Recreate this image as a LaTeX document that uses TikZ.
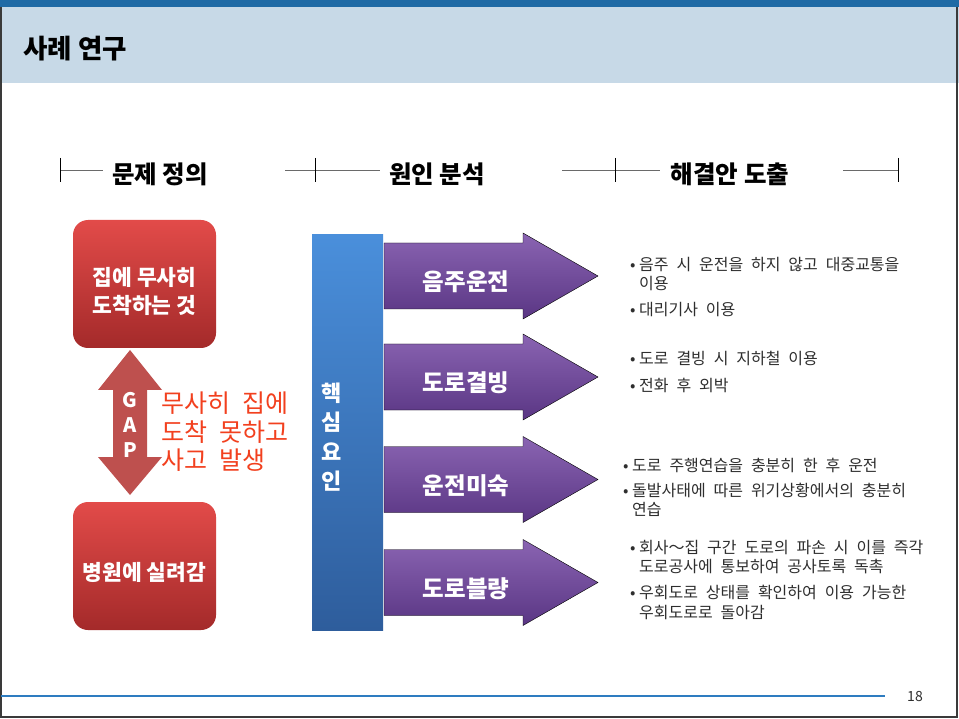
\documentclass[tikz,border=0pt]{standalone}
\usepackage{fontspec}
\setmainfont{Noto Sans CJK KR}
\newfontfamily\bodyfont[WordSpace=2.2]{Noto Sans CJK KR}
\usetikzlibrary{positioning}

\definecolor{bandblue}{HTML}{1F6AA5}
\definecolor{titleblue}{HTML}{C7D9E7}
\definecolor{framegray}{HTML}{3A3A3A}
\definecolor{rulegray}{HTML}{6A6A6A}
\definecolor{boxred1}{HTML}{E24B49}
\definecolor{boxred2}{HTML}{A42A2A}
\definecolor{gapred}{HTML}{BE504E}
\definecolor{gaptext}{HTML}{F2401E}
\definecolor{barblue1}{HTML}{4A8FDB}
\definecolor{barblue2}{HTML}{2E5D9C}
\definecolor{arrowpurple1}{HTML}{8A64B2}
\definecolor{arrowpurple2}{HTML}{5A3684}
\definecolor{bodygray}{HTML}{2E2E2E}
\definecolor{ruleblue}{HTML}{2E7CC0}

\newcommand\tipdot{\makebox[9pt][l]{•}}
\newcommand\tipgap{\hspace*{9pt}}

\tikzset{
  titletxt/.style={anchor=west, inner sep=0pt, font=\bfseries\fontsize{26.5}{30}\selectfont},
  headtxt/.style={inner sep=0pt, font=\bfseries\fontsize{24.5}{28}\selectfont},
  headline/.style={draw=rulegray, line width=0.9pt},
  headtick/.style={draw=black, line width=0.8pt},
  redbox/.style={rounded corners=15pt, top color=boxred1, bottom color=boxred2,
    minimum width=143pt, minimum height=128pt, inner sep=0pt},
  redtxt/.style={inner sep=0pt, text=white, align=center, font=\bfseries\fontsize{21.5}{28}\selectfont},
  gaptxt/.style={inner sep=0pt, text=white, align=center, font=\bfseries\fontsize{20}{25}\selectfont},
  gapnote/.style={anchor=west, inner sep=0pt, text=gaptext, align=left, font=\bodyfont\fontsize{25}{28.5}\selectfont},
  corebar/.style={top color=barblue1, bottom color=barblue2, minimum width=71pt,
    minimum height=395pt, inner sep=0pt},
  coretxt/.style={inner sep=0pt, text=white, align=center, font=\bfseries\fontsize{22}{29.5}\selectfont},
  causearrow/.style={top color=arrowpurple1, bottom color=arrowpurple2},
  causetxt/.style={inner sep=0pt, text=white, font=\bfseries\fontsize{23.5}{27}\selectfont},
  itemtxt/.style={anchor=west, inner sep=0pt, text=bodygray, align=left, font=\bodyfont\fontsize{16}{19.5}\selectfont},
}

\begin{document}
\begin{tikzpicture}[x=1pt, y=-1pt]
  \useasboundingbox (0,0) rectangle (959,719);
  \fill[white] (0,0) rectangle (959,719);
  % Title band
  \fill[bandblue] (0,0) rectangle (959,7);
  \fill[titleblue] (0,7) rectangle (959,83);
  \node[titletxt] (title) at (23,49) {사례 연구};
  % Frame
  \draw[framegray, line width=1.6pt] (0.8,7) -- (0.8,717) -- (957,717) -- (957,7);
  %
  % Headers
  \node[headtxt] (hdProblem) at (160,174) {문제 정의};
  \node[headtxt] (hdCause) at (437,174) {원인 분석};
  \node[headtxt] (hdSolution) at (730,174) {해결안 도출};
  \draw[headline] (60,170) -- (103,170);
  \draw[headtick] (60,158) -- (60,182);
  \draw[headline] (285,170) -- (380,170);
  \draw[headtick] (315,158) -- (315,182);
  \draw[headline] (562,170) -- (660,170);
  \draw[headtick] (615,158) -- (615,182);
  \draw[headline] (843,170) -- (898,170);
  \draw[headtick] (898,158) -- (898,182);
  %
  % Problem definition
  \node[redbox] (goal) at (144.5,284) {};
  \node[redtxt] (goalTxt) at (144.5,291) {집에 무사히\\도착하는 것};
  \node[redbox] (crash) at (144.5,566) {};
  \node[redtxt] (crashTxt) at (144.5,572) {병원에 실려감};
  \fill[gapred] (130,350) -- (162,390) -- (147,390) -- (147,457) -- (162,457)
    -- (130,495) -- (98,457) -- (113,457) -- (113,390) -- (98,390) -- cycle;
  \node[gaptxt] (gapLbl) at (130,425) {G\\A\\P};
  \node[gapnote] (gapNote) at (161,432) {무사히 집에\\도착 못하고\\사고 발생};
  %
  % Cause arrows
  \draw[causearrow] (384,243) -- ++(139,0) -- ++(0,-10) -- ++(75,43) -- ++(-75,43) -- ++(0,-10) -- ++(-139,0) -- cycle;
  \draw[causearrow] (384,344) -- ++(139,0) -- ++(0,-10) -- ++(75,43) -- ++(-75,43) -- ++(0,-10) -- ++(-139,0) -- cycle;
  \draw[causearrow] (384,446.5) -- ++(139,0) -- ++(0,-10) -- ++(75,43) -- ++(-75,43) -- ++(0,-10) -- ++(-139,0) -- cycle;
  \draw[causearrow] (384,549.5) -- ++(139,0) -- ++(0,-10) -- ++(75,43) -- ++(-75,43) -- ++(0,-10) -- ++(-139,0) -- cycle;
  \node[causetxt] (cDrunk) at (466,282) {음주운전};
  \node[causetxt] (cIce) at (466,383) {도로결빙};
  \node[causetxt] (cSkill) at (466,485.5) {운전미숙};
  \node[causetxt] (cRoad) at (466,588.5) {도로블량};
  % Core bar
  \node[corebar] (core) at (347.5,432.5) {};
  \node[coretxt] (coreLbl) at (332,437) {핵\\심\\요\\인};
  %
  % Solutions
  \node[itemtxt] (tipBus) at (630,274) {\tipdot 음주 시 운전을 하지 않고 대중교통을\\\tipgap 이용};
  \node[itemtxt] (tipDriver) at (630,310) {\tipdot 대리기사 이용};
  \node[itemtxt] (tipSubway) at (630,358) {\tipdot 도로 결빙 시 지하철 이용};
  \node[itemtxt] (tipStay) at (630,385) {\tipdot 전화 후 외박};
  \node[itemtxt] (tipPractice) at (623,465) {\tipdot 도로 주행연습을 충분히 한 후 운전};
  \node[itemtxt] (tipCrisis) at (623,500) {\tipdot 돌발사태에 따른 위기상황에서의 충분히\\\tipgap 연습};
  \node[itemtxt] (tipReport) at (630,557) {\tipdot 회사～집 구간 도로의 파손 시 이를 즉각\\\tipgap 도로공사에 통보하여 공사토록 독촉};
  \node[itemtxt] (tipDetour) at (630,602.5) {\tipdot 우회도로 상태를 확인하여 이용 가능한\\\tipgap 우회도로로 돌아감};
  %
  % Footer
  \draw[ruleblue, line width=1.5pt] (0.8,696) -- (885,696);
  \node[inner sep=0pt, text=bodygray, font=\fontsize{14}{16}\selectfont] (pageNo) at (915,697) {18};
\end{tikzpicture}
\end{document}
